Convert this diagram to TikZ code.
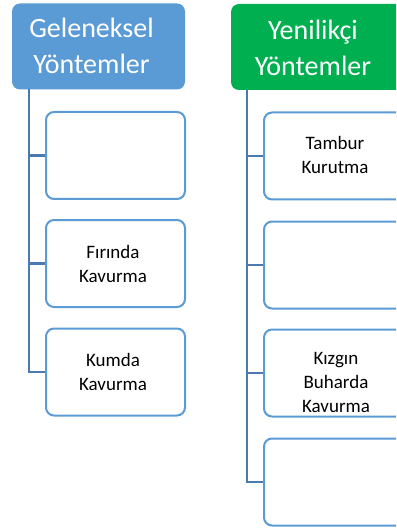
\documentclass[tikz,border=0pt]{standalone}
\usepackage{fontspec}
\setmainfont{Carlito}
\definecolor{hblue}{HTML}{5B9BD5}
\definecolor{hgreen}{HTML}{00B050}
\definecolor{bline}{HTML}{5B9BD5}
\definecolor{cline}{HTML}{4A7AB0}
\begin{document}
\begin{tikzpicture}[x=1pt,y=1pt,
  header/.style={rounded corners=8pt,minimum width=173pt,minimum height=86pt,inner sep=0pt},
  htext/.style={text=white,align=center,font=\fontsize{28}{36}\selectfont,inner sep=0pt},
  itembox/.style={draw=bline,line width=2pt,fill=white,rounded corners=8pt,minimum width=139pt,minimum height=87pt,inner sep=0pt},
  itext/.style={text=black,align=center,font=\fontsize{19}{24}\selectfont,inner sep=0pt},
  conn/.style={draw=cline,line width=2.8pt}]
\useasboundingbox (0,0) rectangle (396,-529);
\clip (0,0) rectangle (396,-529);
% headers
\node[header,fill=hblue] (hl) at (98.5,-46.5) {};
\node[header,fill=hgreen] (hr) at (317.5,-47) {};
\node[htext] (hlt) at (91.5,-46) {Geleneksel\\Yöntemler};
\node[htext] (hrt) at (313,-48) {Yenilikçi\\Yöntemler};
% connector trunks
\coordinate (lt) at (29,-89);
\coordinate (rt) at (247,-90);
% left boxes
\node[itembox] (l1) at (115.5,-155.5) {};
\node[itembox] (l2) at (115.5,-263.5) {};
\node[itembox] (l3) at (115.5,-372) {};
% right boxes
\node[itembox,minimum width=140pt] (r1) at (334,-156) {};
\node[itembox,minimum width=140pt] (r2) at (334,-265) {};
\node[itembox,minimum width=140pt] (r3) at (334,-373) {};
\node[itembox,minimum width=140pt] (r4) at (334,-482) {};
% connectors
\draw[conn] (lt) |- (l3.west);
\draw[conn] (lt |- l1.west) -- (l1.west);
\draw[conn] (lt |- l2.west) -- (l2.west);
\draw[conn] (rt) |- (r4.west);
\draw[conn] (rt |- r1.west) -- (r1.west);
\draw[conn] (rt |- r2.west) -- (r2.west);
\draw[conn] (rt |- r3.west) -- (r3.west);
% texts
\node[itext] (l2t) at (113,-264) {Fırında\\Kavurma};
\node[itext] (l3t) at (113,-372) {Kumda\\Kavurma};
\node[itext] (r1t) at (335,-155) {Tambur\\Kurutma};
\node[itext] (r3t) at (336,-382) {Kızgın\\Buharda\\Kavurma};
\end{tikzpicture}
\end{document}
